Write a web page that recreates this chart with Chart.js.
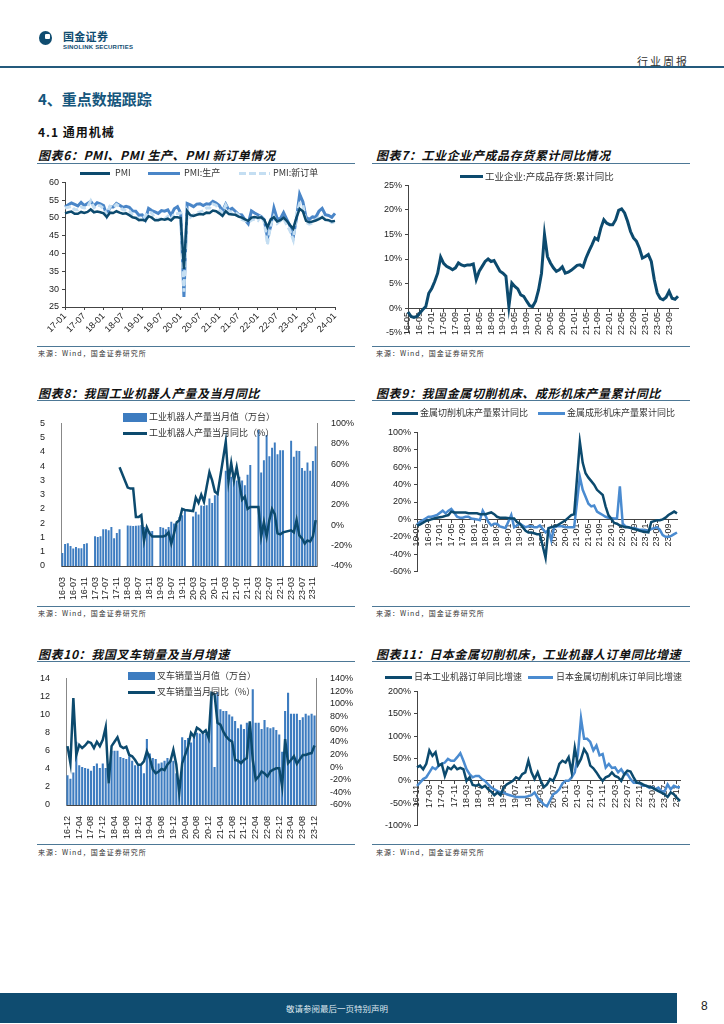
<!DOCTYPE html>
<html>
<head>
<meta charset="utf-8">
<title>行业周报 - 重点数据跟踪</title>
<script src="https://cdn.jsdelivr.net/npm/chart.js@4.4.1/dist/chart.umd.min.js"></script>
<style>
  body { margin: 0; width: 724px; height: 1024px; position: relative; background: #fff; overflow: hidden;
         font-family: "Noto Sans CJK SC", "Liberation Sans", sans-serif; color: #222; }
  .a { position: absolute; white-space: nowrap; }
  canvas { position: absolute; }
  .ttl { font-size: 12px; font-weight: bold; font-style: italic; letter-spacing: 0.6px; color: #111; }
  .rule { position: absolute; height: 0; border-top: 1.5px solid #4d7896; }
  .src { font-size: 7px; color: #333; letter-spacing: 1px; }
  .lg { font-size: 9px; color: #333; line-height: 10px; }
  .sw { position: absolute; height: 3px; }
</style>
</head>
<body>
<!-- header -->
<div class="a" style="left:39px;top:31px;width:13px;height:14px;border-radius:50%;background:#0f4c70"></div>
<div class="a" style="left:45px;top:34px;width:5px;height:5px;border-radius:1px;background:#fff"></div>
<div class="a" style="left:63px;top:31px;font-size:11px;line-height:1;font-weight:bold;color:#0f4c70;letter-spacing:0.3px">国金证券</div>
<div class="a" style="left:63px;top:44px;font-size:6px;line-height:1;font-weight:bold;color:#0f4c70;letter-spacing:0.2px;font-family:'Liberation Sans',sans-serif">SINOLINK SECURITIES</div>
<div class="a" style="left:637px;top:53px;font-size:11px;letter-spacing:2px;color:#333">行业周报</div>
<div class="a" style="left:0;top:66px;width:724px;height:2px;background:#245a7c"></div>

<div class="a" style="left:38px;top:88px;font-size:15px;font-weight:bold;color:#15567c">4、重点数据跟踪</div>
<div class="a" style="left:38px;top:123px;font-size:12px;font-weight:bold;letter-spacing:1px;color:#111">4.1 通用机械</div>

<!-- chart titles and rules -->
<div class="a ttl" style="left:38px;top:146px">图表6：PMI、PMI 生产、PMI 新订单情况</div>
<div class="rule" style="left:37px;top:163px;width:318px"></div>
<div class="a ttl" style="left:376px;top:146px">图表7：工业企业产成品存货累计同比情况</div>
<div class="rule" style="left:372px;top:163px;width:318px"></div>
<div class="rule" style="left:37px;top:346px;width:318px"></div>
<div class="a src" style="left:38px;top:348px">来源：Wind，国金证券研究所</div>
<div class="rule" style="left:372px;top:346px;width:318px"></div>
<div class="a src" style="left:376px;top:348px">来源：Wind，国金证券研究所</div>

<div class="a ttl" style="left:38px;top:384px">图表8：我国工业机器人产量及当月同比</div>
<div class="rule" style="left:37px;top:400px;width:318px"></div>
<div class="a ttl" style="left:376px;top:384px">图表9：我国金属切削机床、成形机床产量累计同比</div>
<div class="rule" style="left:372px;top:400px;width:318px"></div>
<div class="rule" style="left:37px;top:606px;width:318px"></div>
<div class="a src" style="left:38px;top:608px">来源：Wind，国金证券研究所</div>
<div class="rule" style="left:372px;top:606px;width:318px"></div>
<div class="a src" style="left:376px;top:608px">来源：Wind，国金证券研究所</div>

<div class="a ttl" style="left:38px;top:645px">图表10：我国叉车销量及当月增速</div>
<div class="rule" style="left:37px;top:661px;width:318px"></div>
<div class="a ttl" style="left:376px;top:645px">图表11：日本金属切削机床，工业机器人订单同比增速</div>
<div class="rule" style="left:372px;top:661px;width:318px"></div>
<div class="rule" style="left:37px;top:844px;width:318px"></div>
<div class="a src" style="left:38px;top:847px">来源：Wind，国金证券研究所</div>
<div class="rule" style="left:372px;top:844px;width:318px"></div>
<div class="a src" style="left:376px;top:847px">来源：Wind，国金证券研究所</div>

<!-- canvases -->
<canvas id="c6" width="330" height="170" style="left:30px;top:174px"></canvas>
<canvas id="c7" width="330" height="164" style="left:365px;top:177px"></canvas>
<canvas id="c8" width="330" height="193" style="left:30px;top:410px"></canvas>
<canvas id="c9" width="330" height="156" style="left:365px;top:424px"></canvas>
<canvas id="c10" width="330" height="174" style="left:30px;top:665px"></canvas>
<canvas id="c11" width="330" height="151" style="left:365px;top:683px"></canvas>

<!-- legends -->
<div class="sw" style="left:80px;top:172px;width:30px;background:#0c4a6e"></div>
<div class="a lg" style="left:115px;top:168px">PMI</div>
<div class="sw" style="left:148px;top:172px;width:32px;background:#4a86c8"></div>
<div class="a lg" style="left:184px;top:168px">PMI:生产</div>
<div class="sw" style="left:239px;top:172px;width:31px;background:repeating-linear-gradient(90deg,#c4def2 0 7px,transparent 7px 10px)"></div>
<div class="a lg" style="left:273px;top:168px">PMI:新订单</div>

<div class="sw" style="left:460px;top:175px;width:23px;background:#0c4a6e"></div>
<div class="a lg" style="left:485px;top:171px;font-size:9.5px">工业企业:产成品存货:累计同比</div>

<div class="a" style="left:123px;top:413px;width:24px;height:9px;background:#3d7cc0"></div>
<div class="a lg" style="left:149px;top:412px">工业机器人产量当月值（万台）</div>
<div class="sw" style="left:123px;top:432px;width:24px;background:#0c4a6e"></div>
<div class="a lg" style="left:149px;top:428px">工业机器人产量当月同比（%）</div>

<div class="sw" style="left:392px;top:412px;width:26px;background:#0c4a6e"></div>
<div class="a lg" style="left:420px;top:408px">金属切削机床产量累计同比</div>
<div class="sw" style="left:538px;top:412px;width:27px;background:#4a8bd0"></div>
<div class="a lg" style="left:567px;top:408px">金属成形机床产量累计同比</div>

<div class="a" style="left:128px;top:672px;width:27px;height:8px;background:#3d7cc0"></div>
<div class="a lg" style="left:157px;top:671px">叉车销量当月值（万台）</div>
<div class="sw" style="left:128px;top:691px;width:27px;background:#0c4a6e"></div>
<div class="a lg" style="left:157px;top:687px">叉车销量当月同比（%）</div>

<div class="sw" style="left:385px;top:676px;width:27px;background:#0c4a6e"></div>
<div class="a lg" style="left:414px;top:672px">日本工业机器订单同比增速</div>
<div class="sw" style="left:528px;top:676px;width:25px;background:#4a8bd0"></div>
<div class="a lg" style="left:556px;top:672px">日本金属切削机床订单同比增速</div>

<!-- footer -->
<div class="a" style="left:0;top:993px;width:677px;height:30px;background:#0f4c70"></div>
<div class="a" style="left:286px;top:1002px;font-size:8.5px;color:#dfe8ef">敬请参阅最后一页特别声明</div>
<div class="a" style="left:701px;top:999px;font-size:12px;color:#222;font-family:'Liberation Sans',sans-serif">8</div>

<script>
// ---- data ----
// Chart 6: PMI, 17-01 .. 24-01
var pmiStart = "17-01";
var pmi = [51.3,51.6,51.8,51.2,51.2,51.7,51.4,51.7,52.4,51.6,51.8,51.6,
  51.3,50.3,51.5,51.4,51.9,51.5,51.2,51.3,50.8,50.2,50.0,49.4,
  49.5,49.2,50.5,50.1,49.4,49.4,49.7,49.5,49.8,49.3,50.2,50.2,
  50.0,35.7,52.0,50.8,50.6,50.9,51.1,51.0,51.5,51.4,52.1,51.9,
  51.3,50.6,51.9,51.1,51.0,50.9,50.4,50.1,49.6,49.2,50.1,50.3,
  50.1,50.2,49.5,47.4,49.6,50.2,49.0,49.4,50.1,49.2,48.0,47.0,
  50.1,52.6,51.9,49.2,48.8,49.0,49.3,49.7,50.2,49.5,49.4,49.0,
  49.2];
var pmiProd = [53.1,53.7,54.2,53.8,53.4,54.4,53.5,54.1,54.7,53.4,54.3,54.0,
  53.5,50.7,53.1,53.1,54.1,53.6,53.0,53.3,53.0,52.0,51.9,50.8,
  50.9,49.5,52.7,52.1,51.7,51.3,52.1,51.9,52.3,50.8,52.6,53.2,
  51.3,27.8,54.1,53.7,53.2,53.9,54.0,53.5,54.0,53.9,54.7,54.2,
  53.5,51.9,53.9,52.2,52.7,51.9,51.0,50.9,49.5,48.4,52.0,51.4,
  50.9,50.4,49.5,44.4,47.7,52.8,49.8,49.8,51.5,49.6,47.8,44.6,
  49.8,56.7,54.6,50.2,49.6,50.3,50.2,51.9,52.7,50.9,50.7,50.2,
  51.3];
var pmiOrder = [52.8,53.0,53.3,52.3,52.3,53.1,52.8,53.1,54.8,52.9,53.6,53.4,
  52.6,51.0,53.3,52.9,53.8,53.2,52.3,52.2,52.0,50.8,50.4,49.7,
  49.6,50.6,51.6,51.4,49.8,49.6,49.8,49.7,50.5,49.6,51.3,51.2,
  51.4,29.3,52.0,50.2,50.9,51.4,51.7,52.0,52.8,52.8,53.9,53.6,
  52.3,51.5,53.6,52.0,51.3,51.5,50.9,49.6,49.3,48.8,49.4,49.7,
  49.3,50.7,48.8,42.6,48.2,50.4,48.5,49.2,49.8,48.1,46.4,43.9,
  50.9,54.1,53.6,48.8,48.3,48.6,49.5,50.2,50.5,49.5,49.4,48.7,
  49.0];

// Chart 7: finished goods inventory, cumulative YoY %, 16-05 .. 23-12
var invStart = "16-05";
var inventory = [-0.8,-1.7,-1.9,-1.7,-1.0,-0.3,0.3,3.0,
  4.0,5.4,7.1,10.4,9.1,8.5,8.2,7.8,8.2,9.2,8.8,8.6,
  8.8,8.8,9.0,5.8,7.5,8.5,9.5,10.0,9.5,9.7,8.6,7.5,
  7.1,6.5,0.3,5.1,4.4,3.9,2.7,2.4,1.4,0.5,0.3,1.4,
  3.7,7.1,15.0,10.5,9.2,8.2,7.5,7.8,8.4,7.1,7.3,7.7,
  8.2,8.7,8.8,8.4,10.2,11.6,12.9,14.3,13.9,16.3,18.0,17.3,
  17.0,17.0,18.0,19.9,20.2,19.4,17.7,15.6,14.3,13.6,12.2,10.2,
  10.5,10.9,9.5,5.8,3.1,2.0,1.7,2.2,3.4,2.0,1.8,2.4];

// Chart 8: industrial robots, 16-03 .. 23-12
var robotStart = "16-03";
var robotOutput = [0.46,0.77,0.80,0.70,0.61,0.67,0.62,0.62,0.77,0.80,
  null,null,1.04,1.02,1.04,1.29,1.29,1.25,1.37,0.97,1.16,1.29,
  null,null,1.42,1.41,1.40,1.41,1.42,1.44,1.37,1.31,1.23,1.23,
  null,null,1.37,1.34,1.29,1.37,1.55,1.49,1.43,1.72,1.78,1.96,
  null,null,1.74,1.90,1.81,2.12,2.10,2.13,2.37,2.21,2.48,2.54,
  null,null,3.34,3.00,3.13,3.00,3.00,3.13,3.00,2.83,3.20,3.54,
  null,null,4.77,3.28,3.71,4.59,3.85,4.15,4.33,3.92,4.06,4.06,
  null,null,4.39,3.83,4.04,4.03,3.44,3.34,3.63,3.34,3.68,4.20];
var robotYoy = [null,null,null,null,null,null,null,null,null,null,
  null,null,null,null,null,null,null,null,null,null,null,57,
  null,null,37,36,36,8,8,10,-15,-2,-8,-11,
  null,null,-11,-11,-10,-7,-18,-8,3,5,16,15,
  null,null,14,27,22,30,23,38,52,44,33,31,
  null,null,82,43,61,44,57,41,25,28,16,18,
  null,null,18,-11,3,-11,5,16,11,-8,-9,-7,
  null,null,-5,-7,5,-10,-13,-18,-15,-16,-11,5];

// Chart 9: machine tools output, cumulative YoY %, 16-05 .. 23-12
var toolStart = "16-05";
var cuttingYoy = [-7,-6,-4,-2,-1,0,1,2,
  null,3,4,5,9,8,8,8,8,8,7,7,
  null,7,6,6,6,7,8,6,3,2,2,2,
  null,1,1,-3,-5,-9,-13,-15,-15,-16,-17,-17,
  null,-44,-10,-9,-8,-7,-5,-3,-1,2,5,6,
  null,89,65,53,48,44,40,34,31,28,15,5,
  null,-4,-5,-7,-8,-9,-9,-10,-11,-12,-13,-14,
  null,-15,-3,-2,-1,-1,0,2,5,7,9,7];
var formingYoy = [-6,-3,-1,1,3,3,4,5,
  null,10,7,10,12,8,3,2,2,3,3,1,
  null,0,-1,10,4,-3,-7,-5,-5,-8,-9,-10,
  null,5,-9,-7,-5,-7,-9,-8,-8,-9,-9,-7,
  null,-15,-12,-24,-9,-8,-8,-8,-9,-9,-9,-9,
  null,49,34,26,18,15,16,9,7,5,3,2,
  null,1,1,38,-5,-8,-9,-10,-10,-11,-12,-12,
  null,-13,-11,-10,-9,-12,-18,-20,-20,-19,-17,-15];

// Chart 10: forklift sales, 16-12 .. 23-12
var forkStart = "16-12";
var forkSales = [3.3,
  2.9,3.6,7.0,4.4,4.2,4.1,4.0,3.8,4.3,4.6,4.1,4.6,
  4.1,2.4,6.0,6.0,6.0,5.3,5.2,5.1,5.4,4.9,4.4,4.3,
  4.3,3.5,7.3,5.7,5.2,5.1,4.6,4.7,4.9,5.2,5.0,4.9,
  3.5,1.7,7.5,7.2,7.4,6.9,7.6,8.0,7.9,8.1,7.9,7.5,
  12.4,4.2,12.5,10.6,10.4,10.4,10.0,9.8,9.3,8.5,8.9,8.4,
  9.1,9.1,12.8,9.1,9.1,8.4,9.4,8.6,8.5,8.6,8.3,7.8,
  5.9,10.4,12.4,10.1,10.1,10.1,9.4,9.7,10.1,9.9,10.1,9.9];
var forkYoy = [33,
  6,109,19,35,30,34,40,38,30,40,33,43,
  63,-26,33,40,47,33,30,32,19,17,11,3.5,
  3.5,9,25,14,-4,-10,-7,-3,-5,4,9,27,
  4,-41,6,19,32,54,48,62,59,54,58,46,
  117,115,70,67,56,48,43,40,11,10,6,11,
  14,72,11,-20,-15,-7,-10,-15,-7,-4,-2,-2,
  -31,44,6,11,17,5,12,19,19,21,22,34];

// Chart 11: Japan orders YoY %, 16-11 .. 23-12
var japanStart = "16-11";
var japanRobot = [30,34,26,38,68,56,64,34,38,11,30,26,34,26,29,26,0,8,-9,-11,
  -8,-15,-11,-19,-24,-32,-26,-32,-15,-8,-4,0,8,4,15,19,45,19,4,19,
  0,-14,-8,4,0,15,38,45,41,53,19,74,36,49,71,60,34,28,19,8,
  0,8,11,19,11,8,0,15,23,21,8,-4,-4,-8,-11,-13,-15,-19,-23,-26,
  -30,-36,-26,-30,-38,-45];
var japanTool = [-11,-4,4,8,19,30,26,34,38,41,49,45,45,53,62,45,26,15,8,11,
  11,4,0,-8,-15,-19,-23,-26,-26,-30,-32,-34,-36,-36,-36,-36,-34,-32,-26,-38,
  -45,-53,-57,-44,-30,-26,-19,-6,0,0,8,19,60,140,94,94,87,68,79,57,
  60,30,38,29,30,19,26,15,15,4,-4,-4,-6,-11,-11,-15,-14,-19,-15,-23,
  -24,-8,-19,-11,-14,-14];

// ---- helpers ----
var DARK = "#0c4a6e", MID = "#4a8bd0", BAR = "#3d7cc0";
Chart.defaults.font.family = "'Liberation Sans Narrow','Liberation Sans',Arial,sans-serif";
Chart.defaults.font.size = 9;
Chart.defaults.color = "#222";
Chart.defaults.animation = false;
Chart.defaults.responsive = false;
Chart.defaults.plugins.legend.display = false;
Chart.defaults.plugins.tooltip.enabled = false;
Chart.defaults.elements.point.radius = 0;

function months(start, n) {
  var p = start.split("-"), y = +p[0], m = +p[1], out = [];
  for (var i = 0; i < n; i++) {
    out.push(String(y).padStart(2, "0") + "-" + String(m).padStart(2, "0"));
    m++; if (m > 12) { m = 1; y++; }
  }
  return out;
}
function every(step) {
  return function (v, i) { return i % step === 0 ? this.getLabelForValue(v) : null; };
}
function pct(v) { return v + "%"; }
function fixW(w) { return function (s) { s.width = w; }; }
function fixH(h) { return function (s) { s.height = h; }; }
var axisBorder = { display: true, color: "#444", width: 1 };
var tickGrid = { display: true, drawOnChartArea: false, drawTicks: true, tickLength: 3, color: "#444" };
function line(label, data, color, width, extra) {
  var d = { type: "line", label: label, data: data, borderColor: color, backgroundColor: color,
            borderWidth: width, pointRadius: 0, spanGaps: true, tension: 0 };
  for (var k in extra) d[k] = extra[k];
  return d;
}

// ---- chart 6 ----
new Chart(document.getElementById("c6"), {
  type: "line",
  data: {
    labels: months(pmiStart, pmi.length),
    datasets: [
      line("PMI", pmi, DARK, 2.5, { order: 0 }),
      line("PMI:生产", pmiProd, "#4a86c8", 3, { order: 2 }),
      line("PMI:新订单", pmiOrder, "#c4def2", 3, { order: 1, borderDash: [6, 3] })
    ]
  },
  options: {
    layout: { padding: { top: 7, right: 25, left: 0, bottom: 0 } },
    scales: {
      x: { border: axisBorder, grid: tickGrid, afterFit: fixH(37),
           ticks: { autoSkip: false, minRotation: 45, maxRotation: 45, padding: 1, callback: every(6) } },
      y: { min: 25, max: 60, border: axisBorder, grid: tickGrid, afterFit: fixW(35),
           ticks: { stepSize: 5, padding: 3, autoSkip: false } }
    }
  }
});

// ---- chart 7 ----
new Chart(document.getElementById("c7"), {
  type: "line",
  data: {
    labels: months(invStart, inventory.length),
    datasets: [ line("工业企业:产成品存货:累计同比", inventory, DARK, 3) ]
  },
  options: {
    layout: { padding: { top: 6, right: 17, left: 0, bottom: 5 } },
    scales: {
      x: { axis: "x", position: { y: 0 }, border: axisBorder, grid: tickGrid,
           ticks: { autoSkip: false, minRotation: 90, maxRotation: 90, padding: 1, callback: every(4) } },
      y: { min: -5, max: 25, border: axisBorder, grid: tickGrid, afterFit: fixW(43),
           ticks: { stepSize: 5, autoSkip: false, callback: pct } }
    }
  }
});

// ---- chart 8 ----
new Chart(document.getElementById("c8"), {
  type: "bar",
  data: {
    labels: months(robotStart, robotOutput.length),
    datasets: [
      { type: "bar", label: "工业机器人产量当月值（万台）", data: robotOutput, backgroundColor: BAR,
        yAxisID: "y", order: 1, barPercentage: 0.72, categoryPercentage: 1 },
      line("工业机器人产量当月同比（%）", robotYoy, DARK, 2.5, { yAxisID: "y1", order: 0 })
    ]
  },
  options: {
    layout: { padding: { top: 6, right: 0, left: 0, bottom: 0 } },
    scales: {
      x: { border: axisBorder, grid: { display: false }, afterFit: fixH(37),
           ticks: { autoSkip: false, minRotation: 90, maxRotation: 90, padding: 3, callback: every(4) } },
      y: { min: 0, max: 5, border: { display: true, color: "#888" }, grid: { display: false }, afterFit: fixW(31),
           ticks: { stepSize: 0.5, padding: 8, autoSkip: false, callback: function (v) { return Math.round(v); } } },
      y1: { position: "right", min: -40, max: 100, border: { display: true, color: "#888" }, grid: { display: false },
            afterFit: fixW(43), ticks: { stepSize: 20, padding: 6, autoSkip: false, callback: pct } }
    }
  }
});

// ---- chart 9 ----
new Chart(document.getElementById("c9"), {
  type: "line",
  data: {
    labels: months(toolStart, cuttingYoy.length),
    datasets: [
      line("金属切削机床产量累计同比", cuttingYoy, DARK, 2.5),
      line("金属成形机床产量累计同比", formingYoy, MID, 2.5)
    ]
  },
  options: {
    layout: { padding: { top: 6, right: 18, left: 0, bottom: 6 } },
    scales: {
      x: { axis: "x", position: { y: 0 }, border: axisBorder, grid: tickGrid,
           ticks: { autoSkip: false, minRotation: 90, maxRotation: 90, padding: 1, callback: every(4) } },
      y: { min: -60, max: 100, border: axisBorder, grid: tickGrid, afterFit: fixW(52),
           ticks: { stepSize: 20, autoSkip: false, callback: pct } }
    }
  }
});

// ---- chart 10 ----
new Chart(document.getElementById("c10"), {
  type: "bar",
  data: {
    labels: months(forkStart, forkSales.length),
    datasets: [
      { type: "bar", label: "叉车销量当月值（万台）", data: forkSales, backgroundColor: BAR,
        yAxisID: "y", order: 1, barPercentage: 0.72, categoryPercentage: 1 },
      line("叉车销量当月同比（%）", forkYoy, DARK, 2.5, { yAxisID: "y1", order: 0 })
    ]
  },
  options: {
    layout: { padding: { top: 6, right: 0, left: 0, bottom: 0 } },
    scales: {
      x: { border: axisBorder, grid: { display: false }, afterFit: fixH(34),
           ticks: { autoSkip: false, minRotation: 90, maxRotation: 90, padding: 3, callback: every(4) } },
      y: { min: 0, max: 14, border: { display: true, color: "#888" }, grid: { display: false }, afterFit: fixW(36),
           ticks: { stepSize: 2, padding: 8, autoSkip: false } },
      y1: { position: "right", min: -60, max: 140, border: { display: true, color: "#888" }, grid: { display: false },
            afterFit: fixW(44), ticks: { stepSize: 20, padding: 6, autoSkip: false, callback: pct } }
    }
  }
});

// ---- chart 11 ----
new Chart(document.getElementById("c11"), {
  type: "line",
  data: {
    labels: months(japanStart, japanRobot.length),
    datasets: [
      line("日本工业机器订单同比增速", japanRobot, DARK, 2.5),
      line("日本金属切削机床订单同比增速", japanTool, MID, 2.5)
    ]
  },
  options: {
    layout: { padding: { top: 6, right: 15, left: 0, bottom: 6 } },
    scales: {
      x: { axis: "x", position: { y: 0 }, border: axisBorder, grid: tickGrid,
           ticks: { autoSkip: false, minRotation: 90, maxRotation: 90, padding: 1, callback: every(4) } },
      y: { min: -100, max: 200, border: axisBorder, grid: tickGrid, afterFit: fixW(52),
           ticks: { stepSize: 50, autoSkip: false, callback: pct } }
    }
  }
});
</script>
</body>
</html>
